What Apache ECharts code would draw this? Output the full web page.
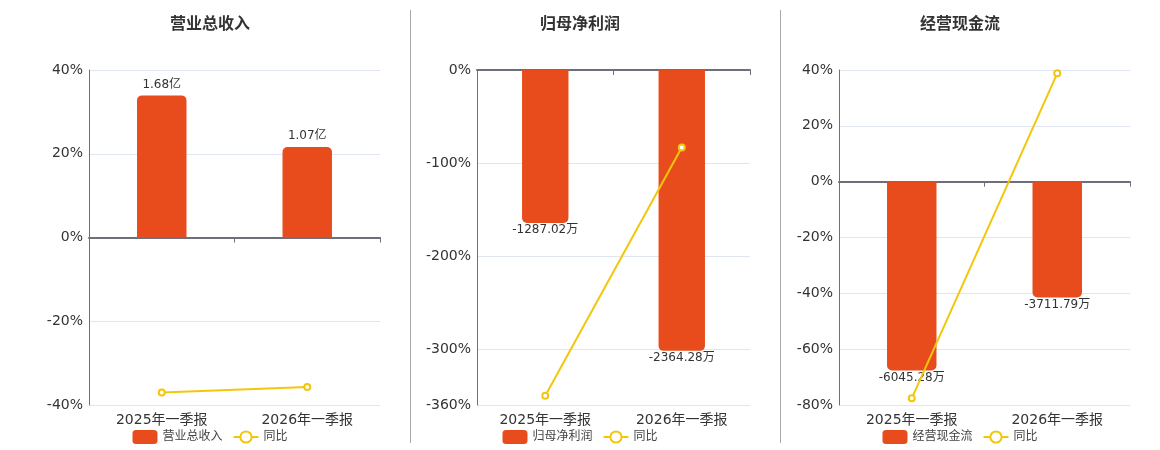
<!DOCTYPE html>
<html>
<head>
<meta charset="utf-8">
<script src="https://cdn.jsdelivr.net/npm/echarts@6/dist/echarts.min.js"></script>
<style>
html,body{margin:0;padding:0;background:#fff;}
#wrap{position:relative;width:1160px;height:450px;overflow:hidden;}
.c{position:absolute;top:0;height:450px;}
.sep{position:absolute;top:10px;height:433px;width:1px;background:#aaa;}
</style>
</head>
<body>
<div id="wrap">
  <div id="c1" class="c" style="left:0;width:420px;"></div>
  <div id="c2" class="c" style="left:400px;width:360px;"></div>
  <div id="c3" class="c" style="left:780px;width:360px;"></div>
  <div class="sep" style="left:410px;"></div>
  <div class="sep" style="left:780px;"></div>
</div>
<script>
var categories = ['2025年一季报', '2026年一季报'];
var titles = ['营业总收入', '归母净利润', '经营现金流'];
var revenue = [1.68, 1.07];          // 亿
var netProfit = [-1287.02, -2364.28]; // 万
var cashFlow = [-6045.28, -3711.79];  // 万
var units = ['亿', '万', '万'];
var revenueYoy = [-37.0, -35.7];
var netProfitYoy = [-350, -83.2];
var cashFlowYoy = [-77.6, 38.8];

var FONT = "'DejaVu Sans','Noto Sans CJK SC',sans-serif";
var BAR = '#E84C1C';
var LINE = '#F3C60C';

function build(el, title, bars, unit, yoy, cfg) {
  var chart = echarts.init(document.getElementById(el));
  var barData = bars.map(function (v) {
    var neg = v < 0;
    return {
      value: v,
      itemStyle: { borderRadius: neg ? [0, 0, 5, 5] : [5, 5, 0, 0] },
      label: { position: neg ? 'bottom' : 'top', distance: neg ? 1 : 5 }
    };
  });
  chart.setOption({
    animation: false,
    textStyle: { fontFamily: FONT },
    title: {
      text: title, left: 'center', top: 12,
      textStyle: { fontSize: 16, fontWeight: 'bold', color: '#333', fontFamily: FONT }
    },
    legend: {
      data: [title, '同比'], left: 'center', top: 425,
      itemWidth: 25, itemHeight: 14, itemGap: 10,
      textStyle: { fontSize: 12, color: '#444', fontFamily: FONT }
    },
    grid: { left: cfg.left, right: cfg.right, top: 70, bottom: 45 },
    xAxis: [{
      type: 'category', data: categories, position: 'bottom',
      axisLine: { show: false, onZero: false }, axisTick: { show: false },
      axisLabel: { fontSize: 14, color: '#333', margin: 8, fontFamily: FONT }
    }, {
      type: 'category', data: categories, position: 'bottom',
      axisLine: { show: true, onZero: true, lineStyle: { color: '#6E7079', width: 2 } },
      axisTick: { show: true, length: 5, lineStyle: { color: '#6E7079' } },
      axisLabel: { show: false }
    }],
    yAxis: [{
      type: 'value', min: cfg.min, max: cfg.max, interval: cfg.interval,
      axisLine: { show: true, lineStyle: { color: '#6E7079' } },
      axisTick: { show: false },
      axisLabel: { formatter: '{value}%', fontSize: 14, color: '#333', margin: 6, fontFamily: FONT },
      splitLine: { lineStyle: { color: '#E0E6F1' } }
    }, {
      type: 'value', min: cfg.bmin, max: cfg.bmax, show: false,
      splitLine: { show: false }
    }],
    series: [{
      name: title, type: 'bar', xAxisIndex: 0, yAxisIndex: 1,
      barWidth: '34%', data: barData,
      itemStyle: { color: BAR },
      label: {
        show: true, fontSize: 12, color: '#333', fontFamily: FONT,
        formatter: function (p) { return p.value + unit; }
      }
    }, {
      name: '同比', type: 'line', xAxisIndex: 0, yAxisIndex: 0,
      data: yoy, symbol: 'emptyCircle', symbolSize: 6,
      itemStyle: { color: LINE }, lineStyle: { color: LINE, width: 2 }
    }]
  });
}

build('c1', titles[0], revenue, units[0], revenueYoy,
  { left: 89, right: 40, min: -40, max: 40, interval: 20, bmin: -1.98, bmax: 1.98 });
build('c2', titles[1], netProfit, units[1], netProfitYoy,
  { left: 77, right: 10, min: -360, max: 0, bmin: -2820, bmax: 0 });
build('c3', titles[2], cashFlow, units[2], cashFlowYoy,
  { left: 59, right: 10, min: -80, max: 40, interval: 20, bmin: -7154, bmax: 3577 });
</script>
</body>
</html>
